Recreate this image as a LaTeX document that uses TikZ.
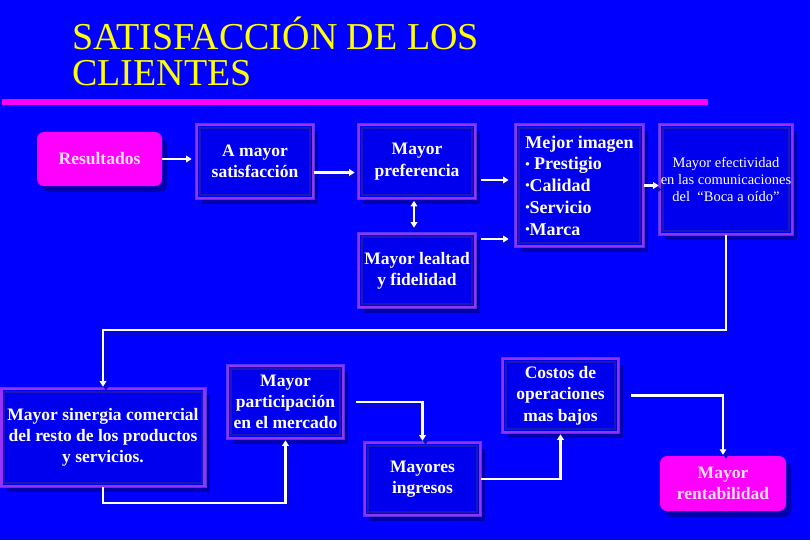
\documentclass[tikz,border=0pt]{standalone}
\usepackage{fontspec}
\setmainfont{Liberation Serif}
\usetikzlibrary{shadows,calc,arrows.meta}
\definecolor{bgblue}{RGB}{0,0,255}
\definecolor{boxfill}{RGB}{0,0,238}
\definecolor{innerc}{RGB}{25,25,180}
\definecolor{bordc}{RGB}{150,50,255}
\definecolor{glowc}{RGB}{190,120,255}
\definecolor{shadc}{RGB}{0,0,175}
\definecolor{lshadc}{RGB}{10,10,200}
\definecolor{magc}{RGB}{255,0,255}
\definecolor{magtxt}{RGB}{255,225,255}
\definecolor{ttl}{RGB}{255,255,0}
\newcommand{\smbul}{\raisebox{0.22ex}{\scalebox{0.7}{•}}}
\begin{document}
\begin{tikzpicture}[x=1pt,y=-1pt,
 boxfont/.style={font=\bfseries\fontsize{17.5}{21.3}\selectfont},
 box/.style={rectangle, draw=bordc, line width=2.6pt, fill=boxfill, text=white,
   boxfont, align=center, inner sep=0pt,
   drop shadow={shadow xshift=5pt, shadow yshift=-6pt, fill=shadc, opacity=1},
   preaction={draw=glowc, line width=4.5pt, opacity=0.45},
   path picture={\draw[innerc, line width=2pt]
     ([shift={(2.6pt,-2.6pt)}]path picture bounding box.north west) rectangle
     ([shift={(-2.6pt,2.6pt)}]path picture bounding box.south east);}},
 mbox/.style={rectangle, rounded corners=7pt, fill=magc, text=magtxt,
   boxfont, align=center, inner sep=0pt,
   drop shadow={shadow xshift=5pt, shadow yshift=-6pt, fill=shadc, opacity=1}},
 arr/.style={draw=white, line width=2.2pt, -{Triangle[length=5.5pt,width=6.5pt]},
   preaction={draw=lshadc, transform canvas={shift={(3pt,-4pt)}}}},
 ttlfont/.style={font=\fontsize{38}{38}\selectfont, text=ttl, inner sep=0pt, anchor=base west},
]
\useasboundingbox (0,0) rectangle (810,540);
\fill[bgblue] (0,0) rectangle (810,540);

% title
\node[ttlfont] (t1) at (72,50) {SATISFACCIÓN DE LOS};
\node[ttlfont] (t2) at (72,86) {CLIENTES};
\draw[magc, line width=5.5pt] (2,102) -- (708,102);

% boxes
\node[mbox, minimum width=125pt, minimum height=54pt] (res) at (99.5,159) {Resultados};
\node[box, minimum width=116pt, minimum height=73pt] (sat) at (255,161.5) {A mayor\\satisfacción};
\node[box, minimum width=116pt, minimum height=73pt] (pref) at (417,161.5) {Mayor\\preferencia};
\node[box, minimum width=116pt, minimum height=73pt] (leal) at (417,270.5) {Mayor lealtad\\y fidelidad};
\node[box, minimum width=127pt, minimum height=121pt, align=left,
  font=\bfseries\fontsize{18}{21.7}\selectfont] (img) at (579.5,185.5)
  {Mejor imagen\\\smbul{} Prestigio\\\smbul Calidad\\\smbul Servicio\\\smbul Marca};
\node[box, minimum width=132pt, minimum height=109pt,
  font=\fontsize{14.5}{17}\selectfont] (efe) at (726,179.5)
  {Mayor efectividad\\en las comunicaciones\\del\ \ “Boca a oído”};
\node[box, minimum width=203pt, minimum height=97pt] (sin) at (103,437.5)
  {Mayor sinergia comercial\\del resto de los productos\\y servicios.};
\node[box, minimum width=115pt, minimum height=72pt] (part) at (285.5,402)
  {Mayor\\participación\\en el mercado};
\node[box, minimum width=115pt, minimum height=72pt] (ing) at (422.5,479) {Mayores\\ingresos};
\node[box, minimum width=115pt, minimum height=73pt] (cos) at (560.5,395.5)
  {Costos de\\operaciones\\mas bajos};
\node[mbox, minimum width=126pt, minimum height=55pt] (ren) at (723,483.5) {Mayor\\rentabilidad};

% connectors
\draw[arr, shorten >=4pt] (res.east) -- (res.east -| sat.west);
\draw[arr, shorten >=3pt] ([yshift=-11pt]sat.east) -- ([yshift=-11pt]pref.west);
\draw[arr, {Triangle[length=5.5pt,width=6.5pt]}-{Triangle[length=5.5pt,width=6.5pt]},
  shorten <=1.5pt, shorten >=5pt] ([xshift=-3pt]pref.south) -- ([xshift=-3pt]leal.north);
\coordinate (p1) at ($(pref.east)+(5,18.5)$);
\coordinate (p2) at ($(leal.east)+(5,-31.5)$);
\draw[arr, shorten >=6pt] (p1) -- (p1 -| img.west);
\draw[arr, shorten >=6pt] (p2) -- (p2 -| img.west);
\draw[arr] (img.east) -- (img.east -| efe.west);
\coordinate (k1) at (0,330);
\coordinate (k2) at (0,503);
\draw[arr, shorten >=1pt] (efe.south) -- (efe.south |- k1) -| (sin.north);
\draw[arr, shorten >=1pt] (sin.south) -- (sin.south |- k2) -| (part.south);
\draw[arr, shorten >=1pt] ([xshift=12pt]part.east) -| (ing.north);
\draw[arr, shorten >=1pt] (ing.east) -| (cos.south);
\draw[arr, shorten >=1pt] ([xshift=12pt]cos.east) -| (ren.north);
\end{tikzpicture}
\end{document}
